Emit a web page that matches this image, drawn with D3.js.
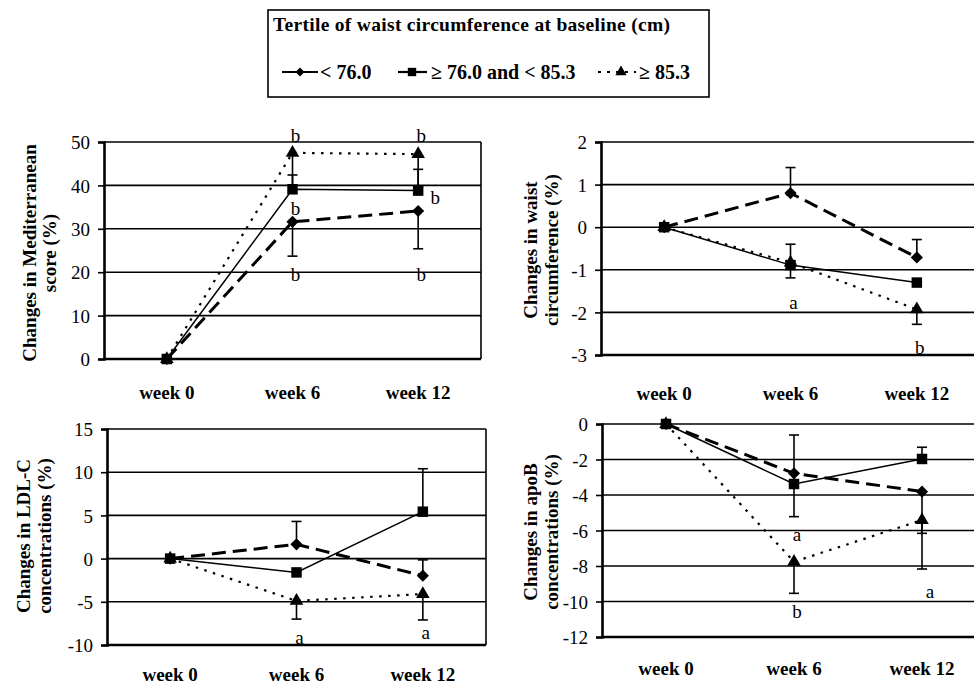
<!DOCTYPE html>
<html>
<head>
<meta charset="utf-8">
<script src="https://cdn.jsdelivr.net/npm/d3@7"></script>
<style>
  body{margin:0;background:#fff;}
</style>
</head>
<body>
<svg id="chart" width="974" height="685" font-family="Liberation Serif"></svg>
<script>
// categories
var weeks=["week 0","week 6","week 12"];
var seriesNames=["< 76.0","\u2265 76.0 and < 85.3","\u2265 85.3"];
var legendTitle="Tertile of waist circumference at baseline (cm)";

// Mediterranean score (%)
var medTicks=[0,10,20,30,40,50];
var medDiamond=[0,31.6,34.1];
var medSquare=[0,39.1,38.8];
var medTriangle=[0,47.5,47.2];
var medErrDiamond=[null,23.7,25.4];
var medErrSquare=[null,42.4,43.7];
var medErrTriangle=[null,40,39.5];
var medLetters=[["week 6",51.6,"b"],["week 12",51.6,"b"],["week 6",34.6,"b"],["week 12",37.2,"b","right"],["week 6",19.6,"b"],["week 12",19.6,"b"]];

// waist circumference (%)
var waistTicks=[-3,-2,-1,0,1,2];
var waistDiamond=[0,0.8,-0.71];
var waistSquare=[0,-0.89,-1.3];
var waistTriangle=[0,-0.83,-1.93];
var waistErrDiamond=[null,1.4,-0.29];
var waistErrSquare=[null,-1.19,null];
var waistErrTriangle=[null,-0.4,-2.28];
var waistLetters=[["week 6",-1.76,"a"],["week 12",-2.82,"b"]];

// LDL-C concentrations (%)
var ldlTicks=[-10,-5,0,5,10,15];
var ldlDiamond=[0,1.65,-1.98];
var ldlSquare=[0,-1.6,5.43];
var ldlTriangle=[0,-4.9,-4.1];
var ldlErrDiamond=[null,4.3,-0.15];
var ldlErrSquare=[null,null,10.4];
var ldlErrTriangle=[null,-7.0,-7.1];
var ldlLetters=[["week 6",-9.15,"a"],["week 12",-8.5,"a"]];

// apoB concentrations (%)
var apoTicks=[-12,-10,-8,-6,-4,-2,0];
var apoDiamond=[0,-2.78,-3.81];
var apoSquare=[0,-3.38,-1.97];
var apoTriangle=[0,-7.76,-5.41];
var apoErrDiamond=[null,-0.62,-6.16];
var apoErrSquare=[null,-5.22,-1.31];
var apoErrTriangle=[null,-9.54,-8.17];
var apoLetters=[["week 6",-6.2,"a"],["week 6",-10.58,"b"],["week 12",-9.45,"a","right"]];

var FONT="Liberation Serif";
var svg=d3.select("#chart");

var styles=[
  {shape:d3.symbolSquare,size:74,rot:45,width:3,dash:"14,7"},
  {shape:d3.symbolSquare,size:110,rot:0,width:1.5,dash:null},
  {shape:d3.symbolTriangle,size:80,rot:0,width:2.2,dash:"2.5,6.5"}
];

var panels=[
  {x0:104,x1:481,y0:142,y1:359,ticks:medTicks,title:["Changes in Mediterranean","score (%)"],tx:[29,49],ty:253,series:[medDiamond,medSquare,medTriangle],errs:[medErrDiamond,medErrSquare,medErrTriangle],letters:medLetters,labelY:392},
  {x0:601,x1:980,y0:142,y1:355,ticks:waistTicks,title:["Changes in waist","circumference (%)"],tx:[530,551],ty:250,series:[waistDiamond,waistSquare,waistTriangle],errs:[waistErrDiamond,waistErrSquare,waistErrTriangle],letters:waistLetters,labelY:393},
  {x0:107,x1:486,y0:429,y1:645,ticks:ldlTicks,title:["Changes in LDL-C","concentrations (%)"],tx:[23,44],ty:536,series:[ldlDiamond,ldlSquare,ldlTriangle],errs:[ldlErrDiamond,ldlErrSquare,ldlErrTriangle],letters:ldlLetters,labelY:674},
  {x0:602,x1:986,y0:424,y1:637,ticks:apoTicks,title:["Changes in apoB","concentrations (%)"],tx:[530,551],ty:532,series:[apoDiamond,apoSquare,apoTriangle],errs:[apoErrDiamond,apoErrSquare,apoErrTriangle],letters:apoLetters,labelY:668}
];

panels.forEach(drawPanel);
drawLegend();

function drawPanel(p){
  var g=svg.append("g");
  var x=d3.scaleBand().domain(weeks).range([p.x0,p.x1]);
  var y=d3.scaleLinear().domain(d3.extent(p.ticks)).range([p.y1,p.y0]);
  var cx=function(i){return x(weeks[i])+x.bandwidth()/2;};

  // gridlines
  g.selectAll(".grid").data(p.ticks).enter().append("line")
    .attr("x1",p.x0).attr("x2",p.x1)
    .attr("y1",function(d){return y(d);}).attr("y2",function(d){return y(d);})
    .attr("stroke","#000").attr("stroke-width",function(d){return d===p.ticks[0]?2.4:1.6;});
  // right border of plot area
  g.append("line").attr("x1",p.x1).attr("x2",p.x1).attr("y1",p.y0).attr("y2",p.y1)
    .attr("stroke","#000").attr("stroke-width",1.6);

  // y axis
  var yAxis=g.append("g").attr("transform","translate("+p.x0+",0)")
    .call(d3.axisLeft(y).tickValues(p.ticks).tickSize(6).tickPadding(8).tickFormat(function(d){return d<0?"-"+Math.abs(d):d;}));
  yAxis.attr("font-family",FONT).attr("font-size",19);
  yAxis.select(".domain").attr("stroke","#000").attr("stroke-width",2.6);
  yAxis.selectAll(".tick line").attr("stroke","#000").attr("stroke-width",1.6);
  yAxis.selectAll(".tick text").attr("font-family",FONT).attr("font-size",19).attr("fill","#000").attr("dy","0.35em");

  // x labels
  g.selectAll(".xl").data(weeks).enter().append("text")
    .attr("x",function(d){return x(d)+x.bandwidth()/2;})
    .attr("y",p.labelY).attr("dy","0.35em").attr("text-anchor","middle")
    .attr("font-family",FONT).attr("font-size",19).attr("font-weight","bold")
    .text(function(d){return d;});

  // y title (two lines)
  p.title.forEach(function(t,i){
    g.append("text").attr("transform","translate("+p.tx[i]+","+p.ty+") rotate(-90)")
      .attr("text-anchor","middle").attr("dy","0.35em")
      .attr("font-family",FONT).attr("font-size",19).attr("font-weight","bold")
      .text(t);
  });

  // error bars
  p.errs.forEach(function(errs,s){
    errs.forEach(function(e,i){
      if(e===null)return;
      var v=p.series[s][i];
      g.append("line").attr("x1",cx(i)).attr("x2",cx(i)).attr("y1",y(v)).attr("y2",y(e))
        .attr("stroke","#000").attr("stroke-width",1.6);
      g.append("line").attr("x1",cx(i)-5).attr("x2",cx(i)+5).attr("y1",y(e)).attr("y2",y(e))
        .attr("stroke","#000").attr("stroke-width",1.6);
    });
  });

  // lines then markers
  var line=d3.line().x(function(d,i){return cx(i);}).y(function(d){return y(d);});
  [2,0,1].forEach(function(s){
    var st=styles[s];
    g.append("path").datum(p.series[s]).attr("d",line)
      .attr("fill","none").attr("stroke","#000").attr("stroke-width",st.width)
      .attr("stroke-dasharray",st.dash);
  });
  [2,0,1].forEach(function(s){
    var st=styles[s];
    g.selectAll(".m"+s).data(p.series[s]).enter().append("path")
      .attr("d",d3.symbol().type(st.shape).size(st.size))
      .attr("transform",function(d,i){return "translate("+cx(i)+","+y(d)+") rotate("+st.rot+")";})
      .attr("fill","#000");
  });

  // significance letters
  g.selectAll(".lt").data(p.letters).enter().append("text")
    .attr("x",function(d){return x(d[0])+x.bandwidth()/2+(d[3]==="right"?(p.ticks===medTicks?17:8):3);})
    .attr("y",function(d){return y(d[1]);}).attr("dy","0.35em")
    .attr("text-anchor","middle")
    .attr("font-family",FONT).attr("font-size",19)
    .text(function(d){return d[2];});
}

function drawLegend(){
  var g=svg.append("g");
  g.append("rect").attr("x",268).attr("y",10).attr("width",441).attr("height",87)
    .attr("fill","#fff").attr("stroke","#000").attr("stroke-width",1.6);
  g.append("text").attr("x",273).attr("y",24).attr("dy","0.35em")
    .attr("font-family",FONT).attr("font-size",19.5).attr("font-weight","bold")
    .attr("textLength",397).attr("lengthAdjust","spacing")
    .text(legendTitle);
  var cy=72;
  var items=[{x1:282,x2:318,m:300,tx:320},{x1:398,x2:427,m:412,tx:431},{x1:598,x2:636,m:621,tx:639}];
  var legendDash=[null,null,"3,6"];
  var legendSize=[40,70,55];
  items.forEach(function(it,s){
    var st=styles[s];
    g.append("line").attr("x1",it.x1).attr("x2",it.x2).attr("y1",cy).attr("y2",cy)
      .attr("stroke","#000").attr("stroke-width",2.2).attr("stroke-dasharray",legendDash[s]);
    g.append("path").attr("d",d3.symbol().type(st.shape).size(legendSize[s]))
      .attr("transform","translate("+it.m+","+cy+") rotate("+st.rot+")").attr("fill","#000");
    g.append("text").attr("x",it.tx).attr("y",cy).attr("dy","0.35em")
      .attr("font-family",FONT).attr("font-size",20).attr("font-weight","bold")
      .text(seriesNames[s]);
  });
}
</script>
</body>
</html>
